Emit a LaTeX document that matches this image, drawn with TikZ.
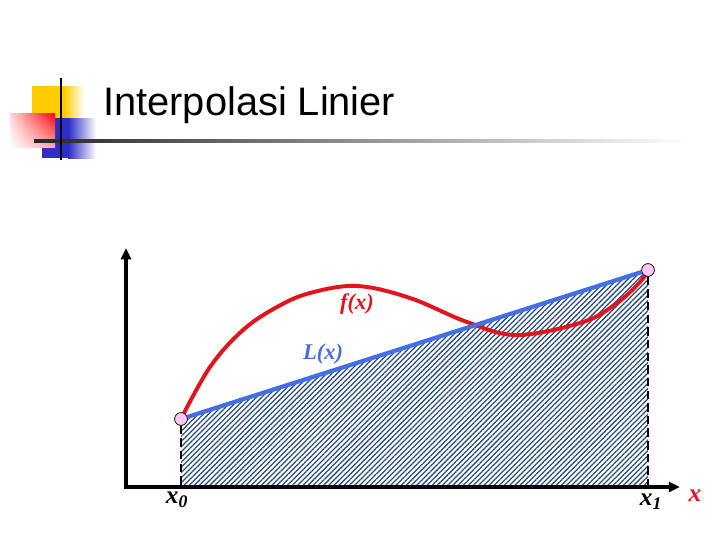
\documentclass[tikz,border=0pt]{standalone}
\usepackage{fontspec}
\setmainfont{Liberation Serif}
\newfontfamily\titlefont{Liberation Sans}
\usetikzlibrary{arrows.meta,patterns.meta,shadings}
\definecolor{merah}{RGB}{228,20,28}
\definecolor{biru}{RGB}{66,110,232}
\definecolor{arsir}{RGB}{40,75,125}
\definecolor{jambu}{RGB}{250,200,240}
\definecolor{kuning}{RGB}{255,204,0}
\definecolor{birutua}{RGB}{45,45,200}

\begin{document}
\begin{tikzpicture}[x=0.025cm,y=-0.025cm,
  sumbu/.style={line width=2.2pt,-{Triangle[length=8pt,width=7pt]}},
  bantu/.style={line width=2pt,dash pattern=on 6pt off 3pt},
  garisL/.style={line width=3pt,biru},
  fungsi/.style={line width=2.8pt,merah,line cap=round},
  titik/.style={circle,draw,thin,fill=jambu,inner sep=0pt,minimum size=9pt},
  lbl/.style={font=\fontsize{16}{19}\selectfont\bfseries\itshape,inner sep=1pt},
  lblx/.style={font=\fontsize{18}{21}\selectfont\bfseries\itshape,inner sep=1pt}
]
\useasboundingbox (0,0) rectangle (720,540);

% logo judul
\fill[kuning] (32,86) rectangle (64,120);
\shade[left color=kuning,right color=white] (64,86) rectangle (84,120);
\fill[birutua] (42,118) rectangle (68,158);
\shade[left color=birutua,right color=white] (68,118) rectangle (96,158);
\shade[upper right=red,upper left=red!15,lower left=white,lower right=red!35]
  (10,113) rectangle (55,147);
\shade[left color=black!85,right color=white] (34,139.8) rectangle (690,142.4);
\draw[line width=1.4pt] (61,78) -- (61,160);
\node[font=\titlefont\fontsize{28.3}{34}\selectfont,anchor=base west,inner sep=0pt]
  (judul) at (103,115) {Interpolasi Linier};

% titik dan sumbu
\coordinate (O) at (126,487);
\coordinate (ujungy) at (126,248);
\coordinate (ujungx) at (680,487);
\node[titik] (p0) at (181,419) {};
\node[titik] (p1) at (648,270) {};
\coordinate (k0) at (p0 |- O);
\coordinate (k1) at (p1 |- O);

\fill[pattern={Lines[angle=45,distance=2.6pt,line width=0.9pt]},pattern color=arsir]
  (p0.center) -- (p1.center) -- (k1) -- (k0) -- cycle;

\draw[bantu] (p0) -- (k0);
\draw[bantu] (p1) -- (k1);
\draw[sumbu] (O) -- (ujungy);
\draw[sumbu] ([xshift=-1.1pt]O) -- (ujungx);

\draw[fungsi] plot[smooth,tension=0.6] coordinates {(p0.center) (210,367) (243,330)
  (277,307) (310,293) (357,286) (410,298) (467,322) (517,335) (583,322) (617,303)
  (640,282) (p1.center)};
\draw[garisL] (p0) -- (p1);
\node[titik] at (p0) {};
\node[titik] at (p1) {};

% label
\node[lbl,merah] (lf) at (357,304) {f(x)};
\node[lbl,biru] (lL) at (323,354) {L(x)};
\node[lblx] (lx0) at (177,500) {x\textsubscript{0}};
\node[lblx] (lx1) at (651,502) {x\textsubscript{1}};
\node[lblx,merah] (lx) at (695,496) {x};
\end{tikzpicture}
\end{document}
